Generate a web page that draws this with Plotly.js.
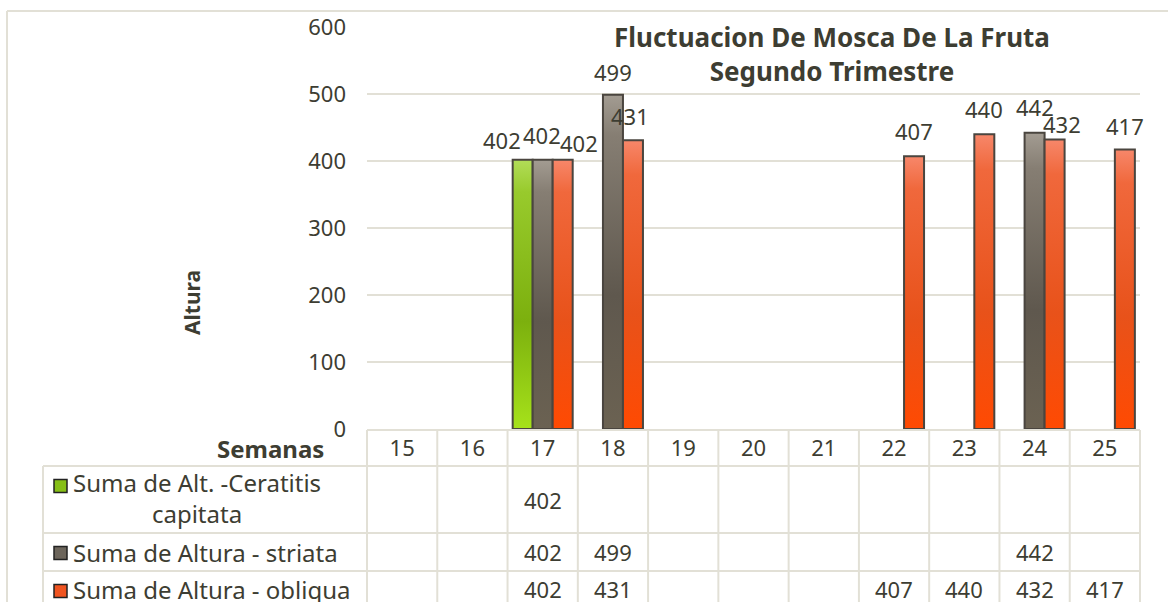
<!DOCTYPE html>
<html>
<head>
<meta charset="utf-8">
<script src="https://cdn.plot.ly/plotly-3.0.1.min.js"></script>
<style>html,body{margin:0;padding:0;background:#fff;}#chart{width:1168px;height:602px;}</style>
</head>
<body>
<div id="chart"></div>
<script>
// ---------- data ----------
var weeks = ['15','16','17','18','19','20','21','22','23','24','25'];
var seriesNames = ['Suma de Alt. -Ceratitis<br>capitata', 'Suma de Altura - striata', 'Suma de Altura - obliqua'];
var ceratitis = [null, null, 402, null, null, null, null, null, null, null, null];
var striata   = [null, null, 402, 499, null, null, null, null, null, 442, null];
var obliqua   = [null, null, 402, 431, null, null, null, 407, 440, 432, 417];
var yTicks = [0, 100, 200, 300, 400, 500, 600];

// ---------- style ----------
var FONT = 'Noto Sans, DejaVu Sans, sans-serif';
var TXT = '#3d3d32';
var GRID = '#e2e0d6';
var fills = ['#86bf16', '#6c655b', '#f05420'];
var gradStops = [
  [['0%','#b2dd58'],['12%','#98ca2c'],['60%','#7cb00e'],['100%','#a6e21a']],
  [['0%','#a39c92'],['12%','#867e73'],['60%','#5f584e'],['100%','#6b6252']],
  [['0%','#f7876a'],['12%','#f0683c'],['60%','#e8521a'],['100%','#ff4a02']]
];
var edge = '#4a453f';
// label nudges (pixels) mimicking the reference label placement
var nudgeX = [[0,0,-21,0,0,0,0,0,0,0,0],[0,0,-1,0,0,0,0,0,0,0,0],[0,0,16,-3,0,0,0,0,0,7,0]];
var nudgeY = [[0,0,-4,0,0,0,0,0,0,0,0],[0,0,1,-1,0,0,0,1,1,2,0],[0,0,-7,0,0,0,0,1,1,-8,0]];

var W = 1168, H = 602;
var L = 367, R = 1140, T = 27, B = 429;
function px(x){ return (x - L) / (R - L); }
function py(y){ return (B - y) / (B - T); }

var all = [ceratitis, striata, obliqua];
var traces = all.map(function(vals, i){
  return {
    type: 'bar', x: weeks, y: vals, name: seriesNames[i],
    marker: {color: fills[i], line: {color: edge, width: 2}},
    hoverinfo: 'x+y', showlegend: false
  };
});

var annotations = [];
var barPx = (R - L) / weeks.length * (1 - 0.146) / 3;
// data labels above bars (x given as category index)
all.forEach(function(vals, s){
  vals.forEach(function(v, k){
    if (v === null) return;
    annotations.push({
      x: k, y: v, xref: 'x', yref: 'y', text: String(v), showarrow: false,
      xanchor: 'center', yanchor: 'middle',
      xshift: (s - 1) * barPx + nudgeX[s][k], yshift: 24 + nudgeY[s][k],
      font: {family: FONT, size: 22, color: TXT}
    });
  });
});
// table values
var rowCenters = [500, 552, 589];
all.forEach(function(vals, s){
  vals.forEach(function(v, k){
    if (v === null) return;
    annotations.push({
      x: k, y: py(rowCenters[s]), xref: 'x', yref: 'paper', text: String(v), showarrow: false,
      xanchor: 'center', yanchor: 'middle', font: {family: FONT, size: 22, color: TXT}
    });
  });
});
// row labels
var labelMid = [498, 552, 589];
seriesNames.forEach(function(n, s){
  annotations.push({
    x: px(71), y: py(labelMid[s]), xref: 'paper', yref: 'paper', text: n, showarrow: false,
    xanchor: 'left', yanchor: 'middle', align: 'center',
    font: {family: FONT, size: 24, color: TXT}
  });
});
// Semanas
annotations.push({
  x: px(326), y: py(448), xref: 'paper', yref: 'paper', text: '<b>Semanas</b>', showarrow: false,
  xanchor: 'right', yanchor: 'middle', font: {family: FONT, size: 24, color: TXT}
});
// y-axis title
annotations.push({
  x: px(192), y: py(303), xref: 'paper', yref: 'paper', text: '<b>Altura</b>', showarrow: false,
  textangle: -90, xanchor: 'center', yanchor: 'middle', font: {family: FONT, size: 21, color: TXT}
});

// table lines and frame
var shapes = [];
function hline(y, x0, x1){ shapes.push({type:'line', xref:'paper', yref:'paper', x0:px(x0), x1:px(x1), y0:py(y), y1:py(y), line:{color:GRID, width:2}}); }
function vline(x, y0, y1){ shapes.push({type:'line', xref:'paper', yref:'paper', x0:px(x), x1:px(x), y0:py(y0), y1:py(y1), line:{color:GRID, width:2}}); }
hline(430, L, R);
hline(466, 43, R);
hline(533, 43, R);
hline(571, 43, R);
vline(43, 466, 620);
for (var c = 0; c <= weeks.length; c++) {
  vline(L + c * (R - L) / weeks.length, 430, 620);
}
// outer frame
hline(11, 7, 1200);
vline(7, 11, 620);
// legend keys
var keyY = [486, 553, 591];
keyY.forEach(function(y, s){
  shapes.push({type:'rect', xref:'paper', yref:'paper', x0:px(54), x1:px(67), y0:py(y+6.5), y1:py(y-6.5),
    fillcolor: fills[s], line:{color:'#222', width:1.5}});
});

var layout = {
  width: W, height: H, autosize: false,
  margin: {l: L, r: W - R, t: T, b: H - B, pad: 0},
  paper_bgcolor: '#ffffff', plot_bgcolor: '#ffffff',
  barmode: 'group', bargap: 0.146, bargroupgap: 0,
  showlegend: false,
  title: {
    text: '<b>Fluctuacion De Mosca De La Fruta<br>Segundo Trimestre</b>',
    x: 832 / W, xanchor: 'center', xref: 'container',
    y: 1 - 47 / H, yanchor: 'middle', yref: 'container',
    font: {family: FONT, size: 26, color: TXT}
  },
  xaxis: {
    type: 'category', categoryorder: 'array', categoryarray: weeks,
    range: [-0.5, weeks.length - 0.5], autorange: false,
    showgrid: false, zeroline: false, showline: false, ticks: '',
    tickfont: {family: FONT, size: 22, color: TXT}, ticklabelstandoff: 4,
    fixedrange: true
  },
  yaxis: {
    range: [0, 600], tickvals: yTicks, ticktext: yTicks.map(String),
    showgrid: true, gridcolor: GRID, gridwidth: 2, zeroline: false, showline: false, ticks: '',
    tickfont: {family: FONT, size: 22, color: TXT}, ticklabelstandoff: 20,
    fixedrange: true
  },
  shapes: shapes,
  annotations: annotations
};

Plotly.newPlot('chart', traces, layout, {displayModeBar: false, staticPlot: true}).then(function(gd){
  // apply vertical gradient shading to bars, like the reference
  var svg = gd.querySelector('svg.main-svg');
  var ns = 'http://www.w3.org/2000/svg';
  var defs = svg.querySelector('defs') || svg.insertBefore(document.createElementNS(ns, 'defs'), svg.firstChild);
  gradStops.forEach(function(stops, i){
    var g = document.createElementNS(ns, 'linearGradient');
    g.setAttribute('id', 'barGrad' + i);
    g.setAttribute('x1', '0'); g.setAttribute('y1', '0'); g.setAttribute('x2', '0'); g.setAttribute('y2', '1');
    stops.forEach(function(st){
      var s = document.createElementNS(ns, 'stop');
      s.setAttribute('offset', st[0]); s.setAttribute('stop-color', st[1]);
      g.appendChild(s);
    });
    defs.appendChild(g);
  });
  var groups = gd.querySelectorAll('g.trace.bars');
  groups.forEach(function(tg, i){
    tg.querySelectorAll('path').forEach(function(p){ p.style.fill = 'url(#barGrad' + i + ')'; });
  });
});
</script>
</body>
</html>
